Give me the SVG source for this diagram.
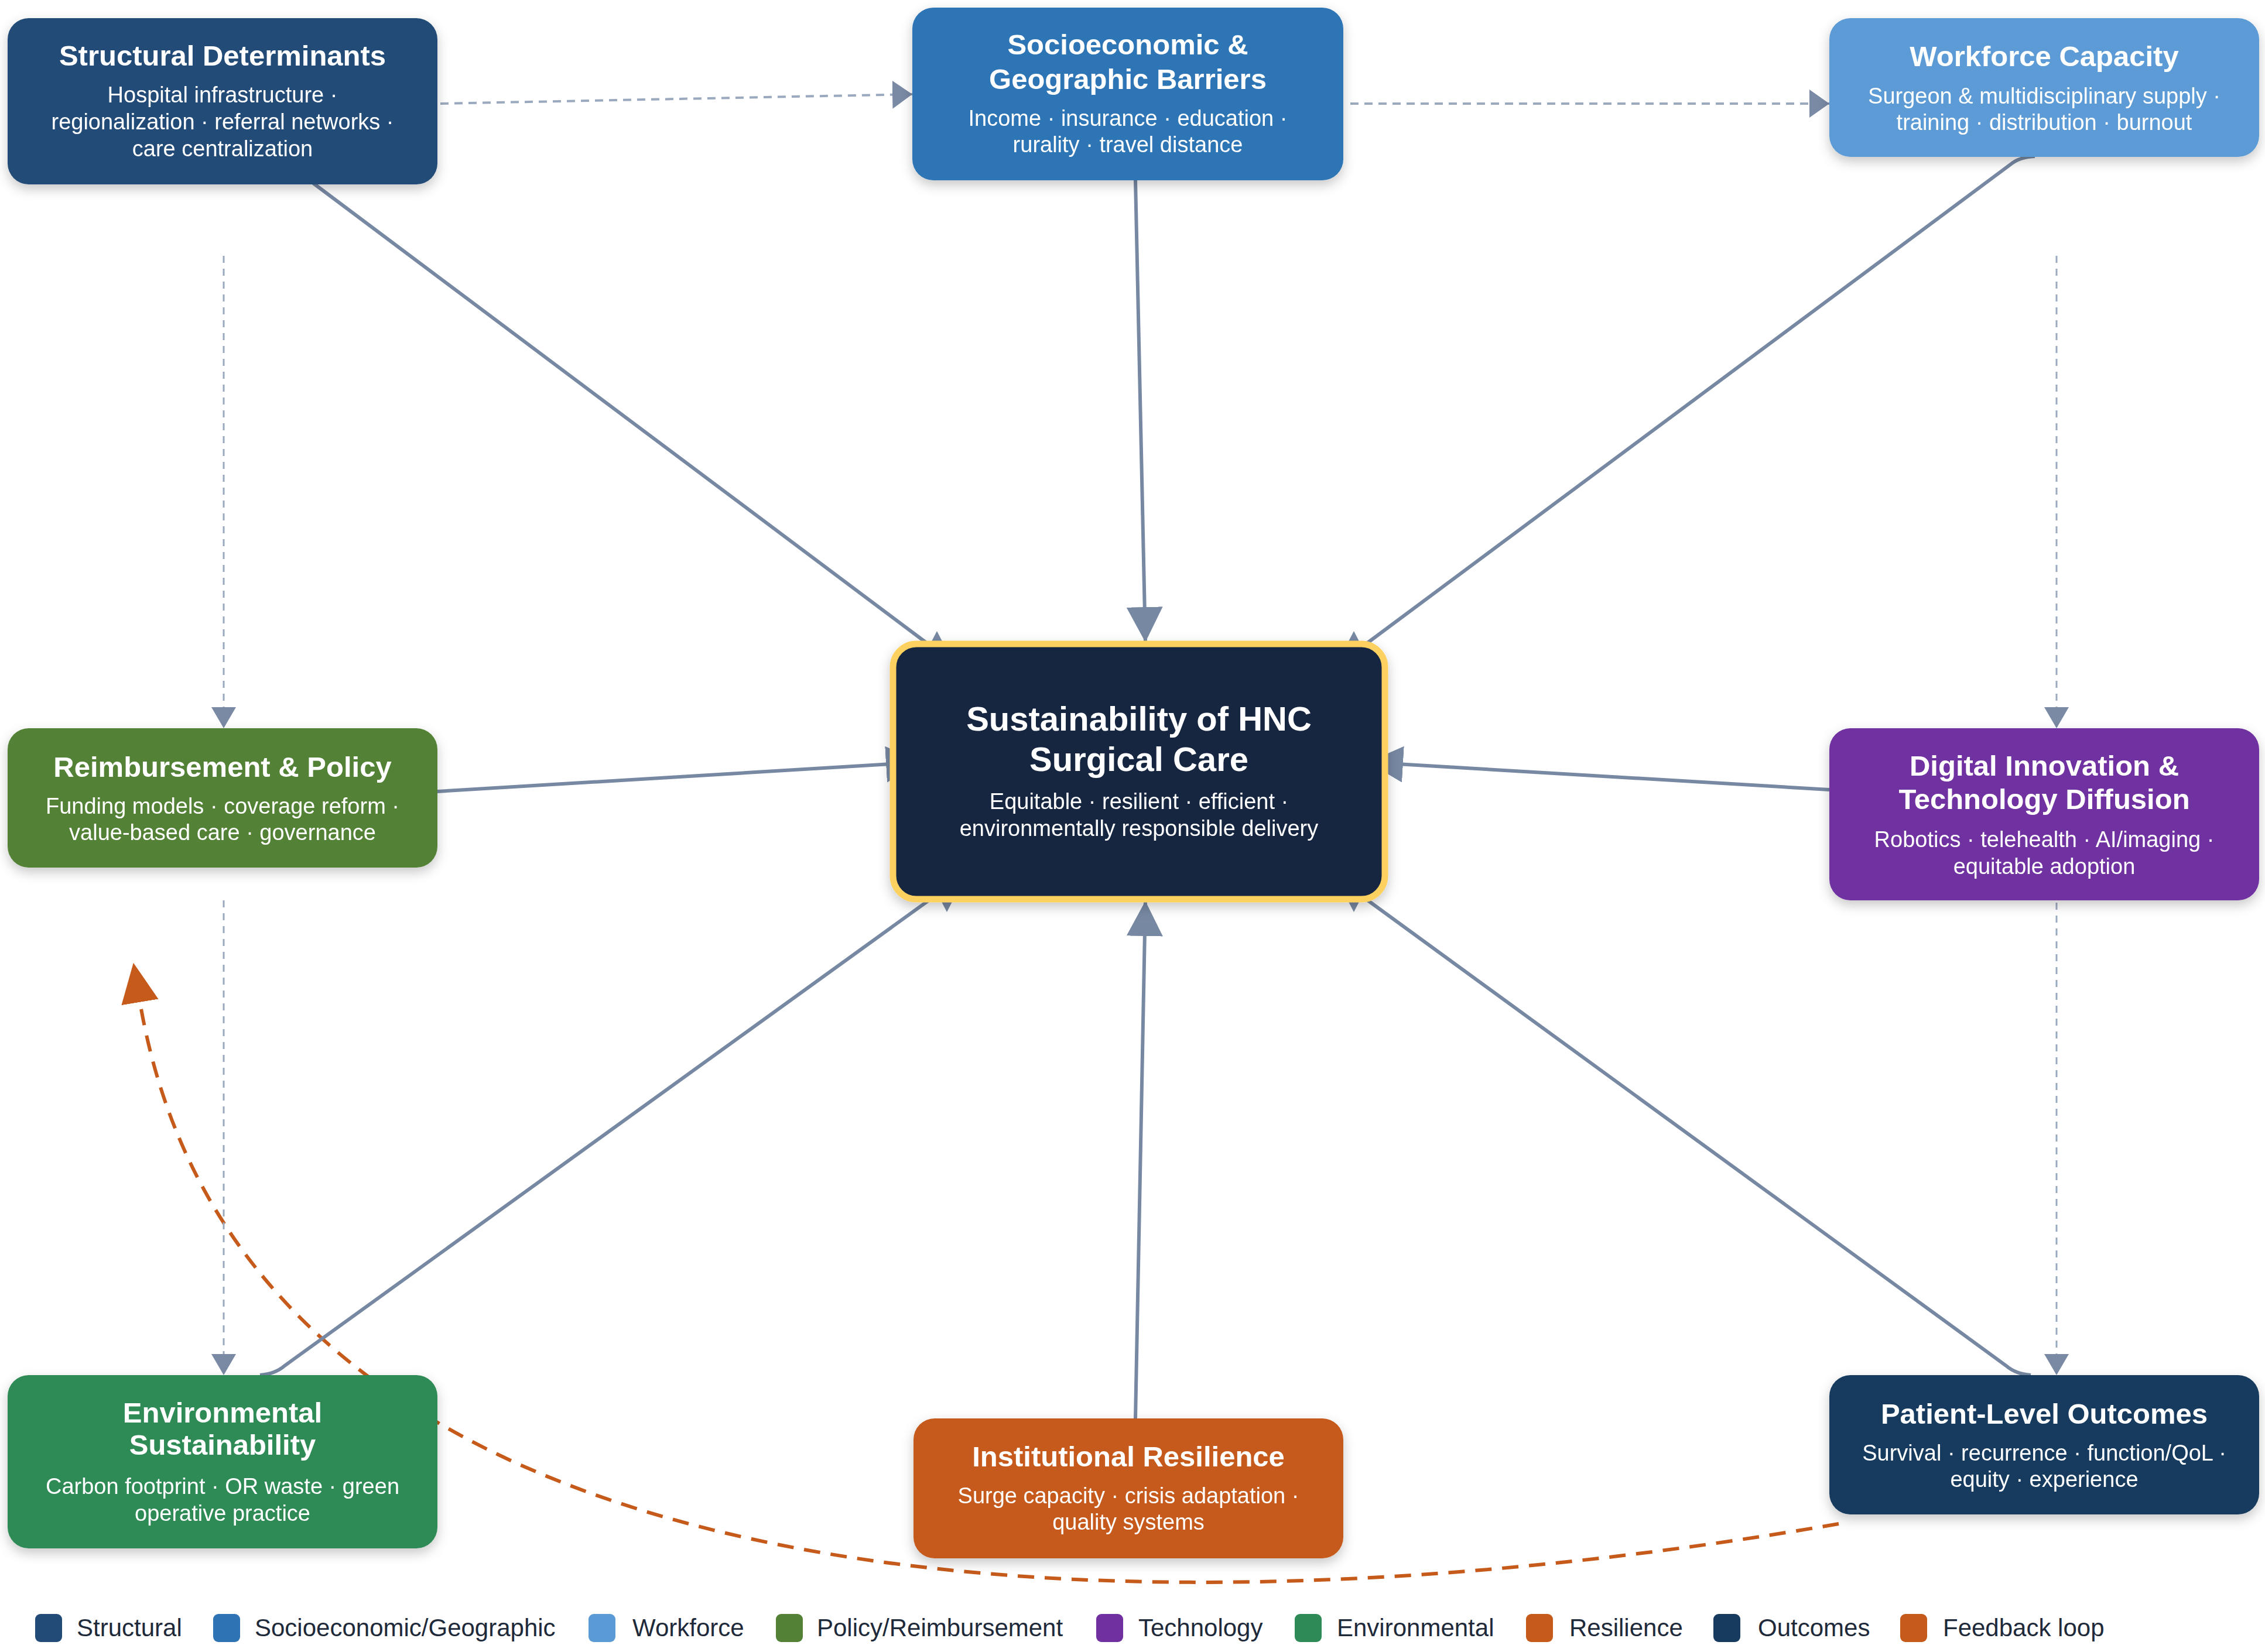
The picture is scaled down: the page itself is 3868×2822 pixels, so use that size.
<svg xmlns="http://www.w3.org/2000/svg" width="3868" height="2822" viewBox="0 0 3868 2822">
<defs>
<style>
.node-title{font-family:"Liberation Sans",Arial,sans-serif;font-weight:bold;font-size:49px;fill:#ffffff;text-anchor:middle}
.node-sub{font-family:"Liberation Sans",Arial,sans-serif;font-size:38px;fill:#ffffff;text-anchor:middle}
.center-title{font-family:"Liberation Sans",Arial,sans-serif;font-weight:bold;font-size:58px;fill:#ffffff;text-anchor:middle}
.legend-text{font-family:"Liberation Sans",Arial,sans-serif;font-size:42px;fill:#1e2a3a}
.solid{fill:none;stroke:#7788a2;stroke-width:6}
.head{fill:#7788a2}
.dash-top{fill:none;stroke:#9aa9bd;stroke-width:4;stroke-dasharray:14 10}
.dash-v{fill:none;stroke:#9aa9bd;stroke-width:3;stroke-dasharray:12 10}
.feedback{fill:none;stroke:#c55a1a;stroke-width:6;stroke-dasharray:28 18}
</style>
<filter id="shadow" x="-10%" y="-10%" width="120%" height="130%">
<feDropShadow dx="0" dy="8" stdDeviation="10" flood-color="#000000" flood-opacity="0.22"/>
</filter>
<marker id="arrowBig" markerUnits="userSpaceOnUse" markerWidth="60" markerHeight="62" refX="60" refY="31" orient="auto">
<path d="M0,0 L60,31 L0,62 z" fill="#7788a2"/>
</marker>
<marker id="arrowDash" markerUnits="userSpaceOnUse" markerWidth="36" markerHeight="42" refX="36" refY="21" orient="auto">
<path d="M0,0 L36,21 L0,42 z" fill="#7a8aa4"/>
</marker>
<marker id="arrowTop" markerUnits="userSpaceOnUse" markerWidth="34" markerHeight="48" refX="34" refY="24" orient="auto">
<path d="M0,0 L34,24 L0,48 z" fill="#7a8aa4"/>
</marker>
<marker id="arrowFeedback" markerUnits="userSpaceOnUse" markerWidth="68" markerHeight="64" refX="6" refY="32" orient="auto">
<path d="M0,0 L68,32 L0,64 z" fill="#c55a1a"/>
</marker>
</defs>
<rect width="3868" height="2822" fill="#ffffff"/>

<g id="connectors">
<!-- feedback loop -->
<path class="feedback" d="M3140,2603 C2000,2800 420,2800 238,1706" marker-end="url(#arrowFeedback)"/>
<!-- dashed relations -->
<path class="dash-top" d="M752,177 L1558,161" marker-end="url(#arrowTop)"/>
<path class="dash-top" d="M2306,177 L3124,177" marker-end="url(#arrowTop)"/>
<path class="dash-v" d="M382,437 L382,1244" marker-end="url(#arrowDash)"/>
<path class="dash-v" d="M382,1538 L382,2349" marker-end="url(#arrowDash)"/>
<path class="dash-v" d="M3512,437 L3512,1244" marker-end="url(#arrowDash)"/>
<path class="dash-v" d="M3512,1542 L3512,2349" marker-end="url(#arrowDash)"/>
<!-- solid relations to centre -->
<path class="solid" d="M1939,308 L1956,1097" marker-end="url(#arrowBig)"/>
<path class="solid" d="M1939,2423 L1956,1539" marker-end="url(#arrowBig)"/>
<path class="solid" d="M747,1352 L1573,1302" marker-end="url(#arrowBig)"/>
<path class="solid" d="M3124,1349 L2336,1302" marker-end="url(#arrowBig)"/>
<path class="solid" d="M535,313 L1590,1104"/>
<path class="solid" d="M3475,267 Q3448,268 3432,282 L2322,1108"/>
<path class="solid" d="M444,2349 Q470,2347 486,2333 L1600,1528"/>
<path class="solid" d="M3468,2349 Q3442,2347 3426,2333 L2322,1528"/>
<polygon class="head" points="1600,1078 1631,1138 1569,1138"/>
<polygon class="head" points="2312,1078 2343,1138 2281,1138"/>
<polygon class="head" points="1617,1558 1648,1498 1586,1498"/>
<polygon class="head" points="2312,1558 2343,1498 2281,1498"/>
</g>

<g id="node-structural" filter="url(#shadow)">
<rect x="13" y="31" width="734" height="284" rx="36" fill="#234b77"/>
<text class="node-title" x="380" y="112">Structural Determinants</text>
<text class="node-sub" x="380" y="175">Hospital infrastructure ·</text>
<text class="node-sub" x="380" y="221">regionalization · referral networks ·</text>
<text class="node-sub" x="380" y="267">care centralization</text>
</g>

<g id="node-socioeconomic" filter="url(#shadow)">
<rect x="1558" y="13" width="736" height="295" rx="36" fill="#2e74b5"/>
<text class="node-title" x="1926" y="93">Socioeconomic &amp;</text>
<text class="node-title" x="1926" y="152">Geographic Barriers</text>
<text class="node-sub" x="1926" y="215">Income · insurance · education ·</text>
<text class="node-sub" x="1926" y="260">rurality · travel distance</text>
</g>

<g id="node-workforce" filter="url(#shadow)">
<rect x="3124" y="31" width="734" height="237" rx="36" fill="#5b9bd5"/>
<text class="node-title" x="3491" y="113">Workforce Capacity</text>
<text class="node-sub" x="3491" y="177">Surgeon &amp; multidisciplinary supply ·</text>
<text class="node-sub" x="3491" y="222">training · distribution · burnout</text>
</g>

<g id="node-reimbursement" filter="url(#shadow)">
<rect x="13" y="1244" width="734" height="238" rx="36" fill="#538135"/>
<text class="node-title" x="380" y="1327">Reimbursement &amp; Policy</text>
<text class="node-sub" x="380" y="1390">Funding models · coverage reform ·</text>
<text class="node-sub" x="380" y="1435">value-based care · governance</text>
</g>

<g id="node-digital" filter="url(#shadow)">
<rect x="3124" y="1244" width="734" height="294" rx="36" fill="#7030a0"/>
<text class="node-title" x="3491" y="1325">Digital Innovation &amp;</text>
<text class="node-title" x="3491" y="1382">Technology Diffusion</text>
<text class="node-sub" x="3491" y="1447">Robotics · telehealth · AI/imaging ·</text>
<text class="node-sub" x="3491" y="1493">equitable adoption</text>
</g>

<g id="node-environmental" filter="url(#shadow)">
<rect x="13" y="2349" width="734" height="296" rx="36" fill="#2e8b57"/>
<text class="node-title" x="380" y="2430">Environmental</text>
<text class="node-title" x="380" y="2485">Sustainability</text>
<text class="node-sub" x="380" y="2552">Carbon footprint · OR waste · green</text>
<text class="node-sub" x="380" y="2598">operative practice</text>
</g>

<g id="node-resilience" filter="url(#shadow)">
<rect x="1560" y="2423" width="734" height="239" rx="36" fill="#c55a1a"/>
<text class="node-title" x="1927" y="2505">Institutional Resilience</text>
<text class="node-sub" x="1927" y="2568">Surge capacity · crisis adaptation ·</text>
<text class="node-sub" x="1927" y="2613">quality systems</text>
</g>

<g id="node-outcomes" filter="url(#shadow)">
<rect x="3124" y="2349" width="734" height="238" rx="36" fill="#173b5e"/>
<text class="node-title" x="3491" y="2432">Patient-Level Outcomes</text>
<text class="node-sub" x="3491" y="2495">Survival · recurrence · function/QoL ·</text>
<text class="node-sub" x="3491" y="2540">equity · experience</text>
</g>

<g id="node-center" filter="url(#shadow)">
<rect x="1525" y="1100" width="840" height="436" rx="40" fill="#16263f" stroke="#fdd160" stroke-width="11"/>
<text class="center-title" x="1945" y="1248">Sustainability of HNC</text>
<text class="center-title" x="1945" y="1317">Surgical Care</text>
<text class="node-sub" x="1945" y="1382">Equitable · resilient · efficient ·</text>
<text class="node-sub" x="1945" y="1428">environmentally responsible delivery</text>
</g>

<g id="legend">
<rect x="60" y="2757" width="46" height="48" rx="9" fill="#234b77"/>
<text class="legend-text" x="131" y="2795">Structural</text>
<rect x="364" y="2757" width="46" height="48" rx="9" fill="#2e74b5"/>
<text class="legend-text" x="435" y="2795">Socioeconomic/Geographic</text>
<rect x="1005" y="2757" width="46" height="48" rx="9" fill="#5b9bd5"/>
<text class="legend-text" x="1080" y="2795">Workforce</text>
<rect x="1325" y="2757" width="46" height="48" rx="9" fill="#538135"/>
<text class="legend-text" x="1395" y="2795">Policy/Reimbursement</text>
<rect x="1872" y="2757" width="46" height="48" rx="9" fill="#7030a0"/>
<text class="legend-text" x="1944" y="2795">Technology</text>
<rect x="2211" y="2757" width="46" height="48" rx="9" fill="#2e8b57"/>
<text class="legend-text" x="2283" y="2795">Environmental</text>
<rect x="2606" y="2757" width="46" height="48" rx="9" fill="#c55a1a"/>
<text class="legend-text" x="2680" y="2795">Resilience</text>
<rect x="2926" y="2757" width="46" height="48" rx="9" fill="#173b5e"/>
<text class="legend-text" x="3002" y="2795">Outcomes</text>
<rect x="3245" y="2757" width="46" height="48" rx="9" fill="#c55a1a"/>
<text class="legend-text" x="3318" y="2795">Feedback loop</text>
</g>
</svg>
